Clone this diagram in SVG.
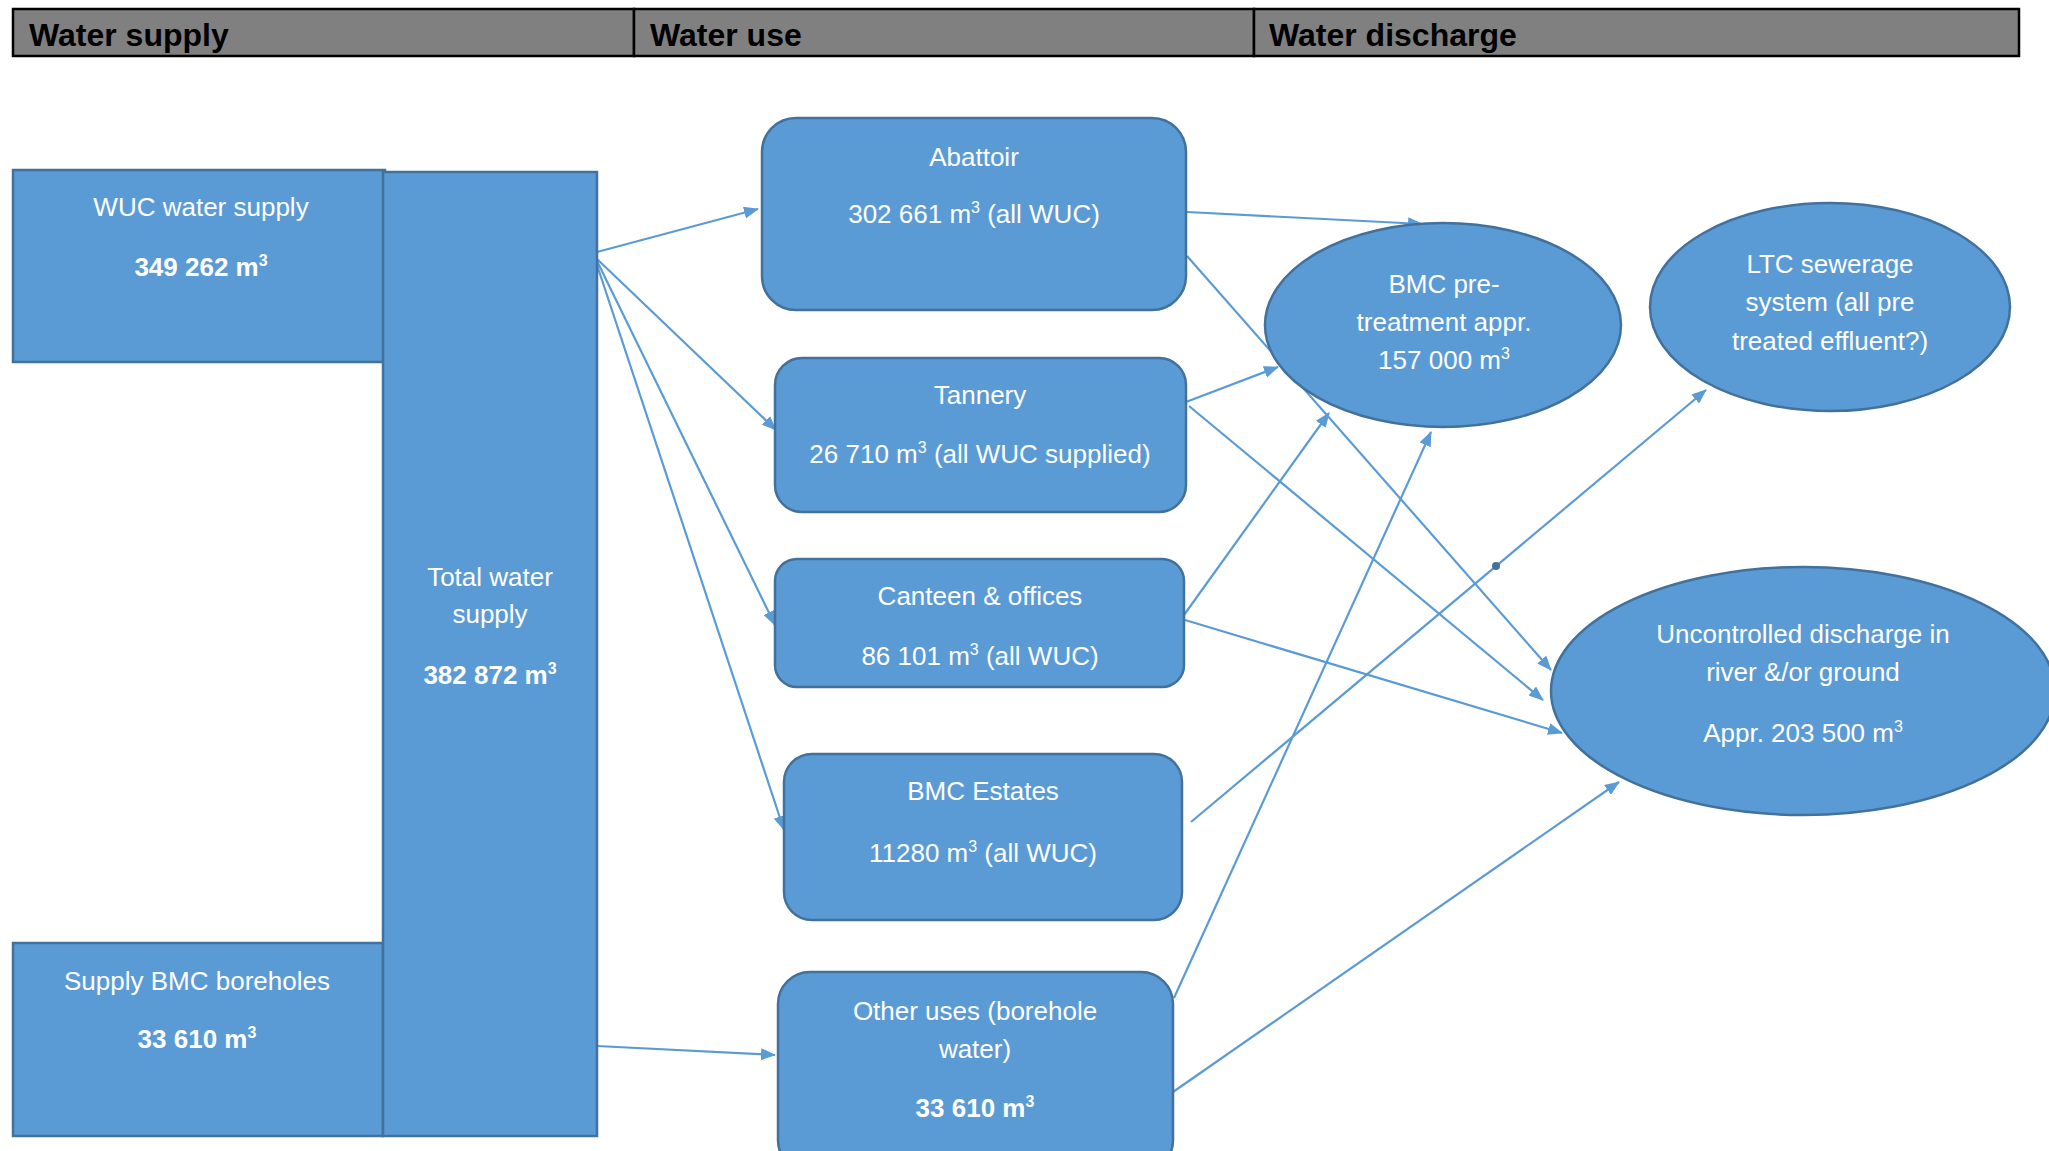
<svg xmlns="http://www.w3.org/2000/svg" width="2049" height="1151" viewBox="0 0 2049 1151">
<style>
.hdr{fill:#808080;stroke:#000;stroke-width:2.5}
.ht{font-family:"Liberation Sans",Arial,sans-serif;font-weight:bold;font-size:32px;fill:#000}
.box{fill:#5B9BD5;stroke:#41719C;stroke-width:2.5}
.t{font-family:"Liberation Sans",Arial,sans-serif;font-size:26px;fill:#fff;text-anchor:middle}
.b{font-weight:bold}
.sup{font-size:16px}
.c{stroke:#5B9BD5;stroke-width:2.2;fill:none;marker-end:url(#ah)}
</style>
<defs>
<marker id="ah" markerUnits="userSpaceOnUse" markerWidth="15" markerHeight="12" refX="14" refY="6" orient="auto">
<path d="M0,0 L15,6 L0,12 z" fill="#5B9BD5"/>
</marker>
</defs>
<rect width="2049" height="1151" fill="#fff"/>
<g id="header">
<rect class="hdr" x="13" y="9" width="621" height="47"/>
<rect class="hdr" x="634" y="9" width="620" height="47"/>
<rect class="hdr" x="1254" y="9" width="765" height="47"/>
<text class="ht" x="29" y="46">Water supply</text>
<text class="ht" x="650" y="46">Water use</text>
<text class="ht" x="1269" y="46">Water discharge</text>
</g>
<g id="connectors">
<line class="c" x1="597" y1="252" x2="758" y2="209"/>
<line class="c" x1="597" y1="259" x2="776" y2="430"/>
<line class="c" x1="597" y1="261" x2="775" y2="625"/>
<line class="c" x1="597" y1="265" x2="784" y2="830"/>
<line class="c" x1="597" y1="1046" x2="775" y2="1055"/>
<line class="c" x1="1187" y1="212" x2="1422" y2="224"/>
<line class="c" x1="1187" y1="256" x2="1551" y2="670"/>
<line class="c" x1="1186" y1="402" x2="1278" y2="367"/>
<line class="c" x1="1189" y1="406" x2="1543" y2="700"/>
<line class="c" x1="1184" y1="615" x2="1329" y2="413"/>
<line class="c" x1="1185" y1="620" x2="1562" y2="733"/>
<line class="c" x1="1191" y1="822" x2="1706" y2="390"/>
<line class="c" x1="1174" y1="998" x2="1431" y2="432"/>
<line class="c" x1="1173" y1="1092" x2="1619" y2="782"/>
<circle cx="1496" cy="566" r="4" fill="#41719C"/>
</g>
<g id="wuc-supply">
<rect class="box" x="13" y="170" width="372" height="192"/>
<text class="t" x="201" y="216">WUC water supply</text>
<text class="t b" x="201" y="276">349 262 m<tspan class="sup" dy="-10">3</tspan></text>
</g>
<g id="bmc-boreholes">
<rect class="box" x="13" y="943" width="370" height="193"/>
<text class="t" x="197" y="990">Supply BMC boreholes</text>
<text class="t b" x="197" y="1048">33 610 m<tspan class="sup" dy="-10">3</tspan></text>
</g>
<g id="total-supply">
<rect class="box" x="383" y="172" width="214" height="964"/>
<text class="t" x="490" y="586">Total water</text>
<text class="t" x="490" y="623">supply</text>
<text class="t b" x="490" y="684">382 872 m<tspan class="sup" dy="-10">3</tspan></text>
</g>
<g id="abattoir">
<rect class="box" x="762" y="118" width="424" height="192" rx="34" ry="34"/>
<text class="t" x="974" y="166">Abattoir</text>
<text class="t" x="974" y="223">302 661 m<tspan class="sup" dy="-10">3</tspan><tspan dy="10"> (all WUC)</tspan></text>
</g>
<g id="tannery">
<rect class="box" x="775" y="358" width="411" height="154" rx="27" ry="27"/>
<text class="t" x="980" y="404">Tannery</text>
<text class="t" x="980" y="463">26 710 m<tspan class="sup" dy="-10">3</tspan><tspan dy="10"> (all WUC supplied)</tspan></text>
</g>
<g id="canteen">
<rect class="box" x="775" y="559" width="409" height="128" rx="22" ry="22"/>
<text class="t" x="980" y="605">Canteen &amp; offices</text>
<text class="t" x="980" y="665">86 101 m<tspan class="sup" dy="-10">3</tspan><tspan dy="10"> (all WUC)</tspan></text>
</g>
<g id="bmc-estates">
<rect class="box" x="784" y="754" width="398" height="166" rx="28" ry="28"/>
<text class="t" x="983" y="800">BMC Estates</text>
<text class="t" x="983" y="862">11280 m<tspan class="sup" dy="-10">3</tspan><tspan dy="10"> (all WUC)</tspan></text>
</g>
<g id="other-uses">
<rect class="box" x="778" y="972" width="395" height="200" rx="32" ry="32"/>
<text class="t" x="975" y="1020">Other uses (borehole</text>
<text class="t" x="975" y="1058">water)</text>
<text class="t b" x="975" y="1117">33 610 m<tspan class="sup" dy="-10">3</tspan></text>
</g>
<g id="bmc-pretreatment">
<ellipse class="box" cx="1443" cy="325" rx="178" ry="102"/>
<text class="t" x="1444" y="293">BMC pre-</text>
<text class="t" x="1444" y="331">treatment appr.</text>
<text class="t" x="1444" y="369">157 000 m<tspan class="sup" dy="-10">3</tspan></text>
</g>
<g id="ltc-sewerage">
<ellipse class="box" cx="1830" cy="307" rx="180" ry="104"/>
<text class="t" x="1830" y="273">LTC sewerage</text>
<text class="t" x="1830" y="311">system (all pre</text>
<text class="t" x="1830" y="350">treated effluent?)</text>
</g>
<g id="uncontrolled">
<ellipse class="box" cx="1803" cy="691" rx="252" ry="124"/>
<text class="t" x="1803" y="643">Uncontrolled discharge in</text>
<text class="t" x="1803" y="681">river &amp;/or ground</text>
<text class="t" x="1803" y="742">Appr. 203 500 m<tspan class="sup" dy="-10">3</tspan></text>
</g>
</svg>
